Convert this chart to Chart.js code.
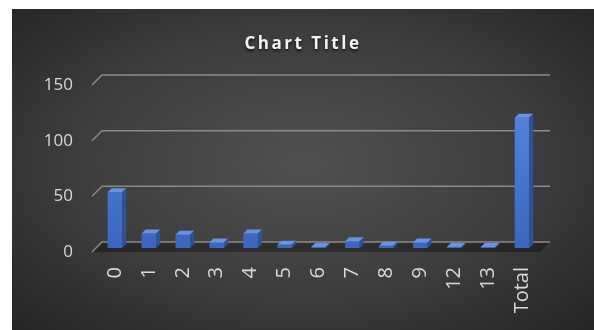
<!DOCTYPE html>
<html>
<head>
<meta charset="utf-8">
<script src="https://cdn.jsdelivr.net/npm/chart.js@4"></script>
<style>
  html, body { margin: 0; background: #fff; }
  #wrap {
    position: absolute; left: 12px; top: 9px; width: 582px; height: 321px;
    background: radial-gradient(farthest-corner at 50% 48%, #515151 0%, #3d3d3d 55%, #252525 100%);
  }
  canvas { display: block; }
</style>
</head>
<body>
<div id="wrap"><canvas id="chart" width="582" height="321"></canvas></div>
<script>
// ── Data ───────────────────────────────────────────────
const categories = ['0', '1', '2', '3', '4', '5', '6', '7', '8', '9', '12', '13', 'Total'];
const counts     = [50, 13, 12, 5, 13, 3, 1, 6, 2, 5, 1, 1, 117];
const yMax = 150;
const yStep = 50;
const titleText = 'Chart Title';

// Excel-ish 3D look: back-wall gridlines, dark floor, bar top/side faces.
const FLOOR = 10;   // diagonal depth of the floor / wall stubs
const BAR_D = 4;    // depth of each bar's top and side faces

const fake3d = {
  id: 'fake3d',
  beforeDatasetsDraw(chart) {
    const { ctx, chartArea: a, scales: { y } } = chart;
    const y0 = y.getPixelForValue(0);
    ctx.save();
    // floor
    ctx.fillStyle = 'rgba(0,0,0,0.32)';
    ctx.beginPath();
    ctx.moveTo(a.left - 6, y0 + 4);
    ctx.lineTo(a.left - 6 + FLOOR, y0 + 4 - FLOOR);
    ctx.lineTo(a.right + 1 + FLOOR, y0 + 4 - FLOOR);
    ctx.lineTo(a.right + 1, y0 + 4);
    ctx.closePath();
    ctx.fill();
    // gridlines on the back wall with a diagonal stub at the left
    ctx.strokeStyle = '#8a8a8a';
    ctx.lineWidth = 1.5;
    y.ticks.forEach(t => {
      const py = y.getPixelForValue(t.value);
      ctx.beginPath();
      ctx.moveTo(a.left - 6, py + 4);
      ctx.lineTo(a.left - 6 + FLOOR, py + 4 - FLOOR);
      ctx.lineTo(a.right + 1 + FLOOR, py + 4 - FLOOR);
      ctx.stroke();
    });
    ctx.restore();
  },
  afterDatasetsDraw(chart) {
    const ctx = chart.ctx;
    ctx.save();
    chart.getDatasetMeta(0).data.forEach(bar => {
      const { x, y, base, width } = bar.getProps(['x', 'y', 'base', 'width'], true);
      const l = x - width / 2, r = x + width / 2;
      ctx.fillStyle = '#6892e2';   // top face
      ctx.beginPath();
      ctx.moveTo(l, y); ctx.lineTo(l + BAR_D, y - BAR_D);
      ctx.lineTo(r + BAR_D, y - BAR_D); ctx.lineTo(r, y);
      ctx.closePath(); ctx.fill();
      ctx.fillStyle = '#2e529a';   // side face
      ctx.beginPath();
      ctx.moveTo(r, y); ctx.lineTo(r + BAR_D, y - BAR_D);
      ctx.lineTo(r + BAR_D, base - BAR_D); ctx.lineTo(r, base);
      ctx.closePath(); ctx.fill();
    });
    ctx.restore();
  },
  afterDraw(chart) {
    // spaced, shadowed title (Chart.js title has no letter spacing)
    const ctx = chart.ctx;
    ctx.save();
    ctx.font = 'bold 17px "Open Sans", sans-serif';
    ctx.letterSpacing = '2.5px';
    ctx.fillStyle = '#f2f2f2';
    ctx.textAlign = 'center';
    ctx.textBaseline = 'middle';
    ctx.shadowColor = 'rgba(0,0,0,0.7)';
    ctx.shadowOffsetY = 2;
    ctx.shadowBlur = 3;
    ctx.fillText(titleText, 291, 35);
    ctx.restore();
  },
};

new Chart(document.getElementById('chart'), {
  type: 'bar',
  data: {
    labels: categories,
    datasets: [{
      data: counts,
      backgroundColor: c => {
        const a = c.chart.chartArea;
        if (!a) return '#4472c4';
        const g = c.chart.ctx.createLinearGradient(0, a.top, 0, a.bottom);
        g.addColorStop(0, '#5a88e2');
        g.addColorStop(1, '#3a66c0');
        return g;
      },
      barPercentage: 0.43,
      categoryPercentage: 1,
    }],
  },
  options: {
    responsive: false,
    animation: false,
    layout: { padding: { top: 72, right: 55, left: 0, bottom: 0 } },
    plugins: { legend: { display: false }, title: { display: false }, tooltip: { enabled: false } },
    scales: {
      x: {
        grid: { display: false, drawTicks: false },
        border: { display: false },
        ticks: { color: '#d9d9d9', font: { family: 'Open Sans', size: 20 }, minRotation: 90, maxRotation: 90, padding: 19 },
        afterFit: s => { s.height = 82; },
      },
      y: {
        min: 0, max: yMax,
        grid: { display: false, drawTicks: false },
        border: { display: false },
        ticks: { stepSize: yStep, color: '#d9d9d9', font: { family: 'Open Sans', size: 17 }, padding: 25, labelOffset: 4 },
        afterFit: s => { s.width = 86; },
      },
    },
  },
  plugins: [fake3d],
});
</script>
</body>
</html>
